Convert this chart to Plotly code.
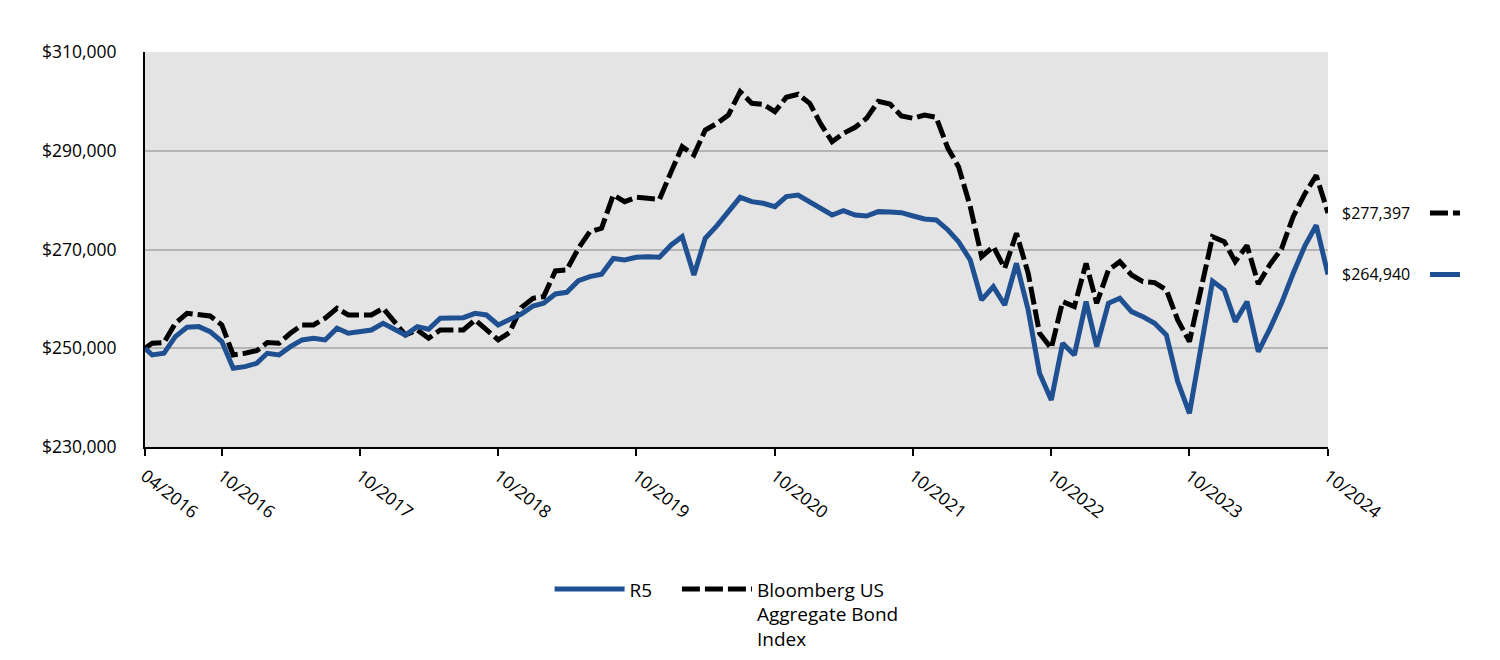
import pandas as pd
import plotly.graph_objects as go

# ---- data ----
inception_date = "2016-04-11"
month_ends = [d.strftime("%Y-%m-%d") for d in pd.date_range("2016-04-30", "2024-10-31", freq="ME")]
dates = [inception_date] + month_ends

r5 = [250000,
      248640, 248980, 252355, 254245, 254380, 253370, 251345, 245940, 246280, 246955,
      248980, 248640, 250330, 251680, 252020, 251680, 254040, 253030, 253370, 253700,
      255055, 253840, 252690, 254380, 253840, 256070, 256200, 256200, 257080, 256740,
      254720, 255730, 256945, 258565, 259105, 261000, 261330, 263695, 264505, 264975,
      268190, 267880, 268420, 268555, 268420, 270930, 272600, 264840, 272270, 274835,
      277670, 280570, 279690, 279355, 278680, 280705, 281040, 279690, 278345, 276990,
      277870, 276990, 276790, 277670, 277600, 277465, 276790, 276180, 275980, 273955,
      271590, 267880, 259780, 262480, 258770, 267205, 257755, 244930, 239530, 251005,
      248640, 259440, 250330, 259105, 260115, 257420, 256405, 255055, 252690, 243245,
      236830, 250330, 263600, 261800, 255385, 259440, 249320, 254040, 259105, 265180,
      270750, 274900, 264940]

bbg = [250000,
       251005, 251140, 255055, 257080, 256740, 256540, 254720, 248640, 248980, 249520,
       251140, 251005, 253030, 254720, 254720, 256070, 258090, 256740, 256740, 256740,
       258090, 255055, 252690, 253700, 252020, 253700, 253700, 253700, 255730, 253700,
       251680, 253200, 258250, 260120, 260455, 265655, 265855, 270245, 273620, 274295,
       281040, 279690, 280570, 280365, 280165, 285770, 290830, 289140, 294205, 295555,
       297240, 301970, 299605, 299405, 297920, 300820, 301430, 299605, 295555, 291840,
       293530, 294745, 296570, 300000, 299470, 297040, 296570, 297240, 296770, 290490,
       286780, 278680, 268555, 270580, 266190, 273280, 265180, 253030, 249995, 259440,
       258430, 267205, 259105, 265855, 267545, 264845, 263495, 263290, 261805, 255730,
       251345, 261805, 272600, 271590, 267545, 270800, 263000, 267000, 270100, 276650,
       281300, 285000, 277397]

tick_dates = [inception_date] + [f"{y}-10-31" for y in range(2016, 2025)]
tick_labels = ["04/2016"] + [f"10/{y}" for y in range(2016, 2025)]
y_ticks = [230000, 250000, 270000, 290000, 310000]

series_names = ["R5" + "\u00a0" * 4, "Bloomberg US<br>Aggregate Bond<br>Index"]
end_labels = ["$264,940", "$277,397"]

BLUE = "#1f5092"
BLACK = "#000000"
FONT = "Open Sans"
DASH = "18px,5px"

fig = go.Figure()
fig.add_trace(go.Scatter(x=dates, y=bbg, mode="lines", name=series_names[1],
                         line=dict(color=BLACK, width=5, dash=DASH)))
fig.add_trace(go.Scatter(x=dates, y=r5, mode="lines", name=series_names[0],
                         line=dict(color=BLUE, width=5)))

# end-value labels with line samples on the right
for val, txt, col, dash in [(r5[-1], end_labels[0], BLUE, "solid"),
                            (bbg[-1], end_labels[1], BLACK, DASH)]:
    fig.add_annotation(x=1.010, xref="paper", y=val, yref="y", text=txt,
                       showarrow=False, xanchor="left", yanchor="middle",
                       font=dict(family=FONT, size=16, color="#000"))
    fig.add_shape(type="line", xref="paper", yref="y", x0=1.0862, x1=1.1116,
                  y0=val, y1=val, line=dict(color=col, width=5, dash=dash))

fig.update_layout(
    width=1500, height=660,
    margin=dict(l=145, r=172, t=52, b=213, autoexpand=False),
    paper_bgcolor="white", plot_bgcolor="#e4e4e4",
    font=dict(family=FONT, size=16, color="#000"),
    showlegend=True,
    legend=dict(orientation="h", x=0.342, y=-0.312, xanchor="left", yanchor="top",
                traceorder="reversed", itemwidth=70, valign="top",
                font=dict(size=19, family=FONT, color="#000"),
                bgcolor="rgba(0,0,0,0)"),
    xaxis=dict(type="date", range=[dates[0], dates[-1]], tickvals=tick_dates,
               ticktext=tick_labels, tickangle=38, ticks="outside", ticklen=7,
               tickwidth=2, tickcolor="black", showline=True, linecolor="black",
               linewidth=2, showgrid=False, zeroline=False, ticklabelstandoff=3,
               automargin=False,
               tickfont=dict(size=17.5, family=FONT, color="#000")),
    yaxis=dict(range=[230000, 310000], tickvals=y_ticks, tickformat="$,.0f",
               showgrid=True, gridcolor="#b4b4b4", gridwidth=2, showline=True,
               linecolor="black", linewidth=2, ticks="", zeroline=False,
               ticklabelstandoff=23, automargin=False,
               tickfont=dict(size=17.5, family=FONT, color="#000")),
)

fig.write_html("out.html")
